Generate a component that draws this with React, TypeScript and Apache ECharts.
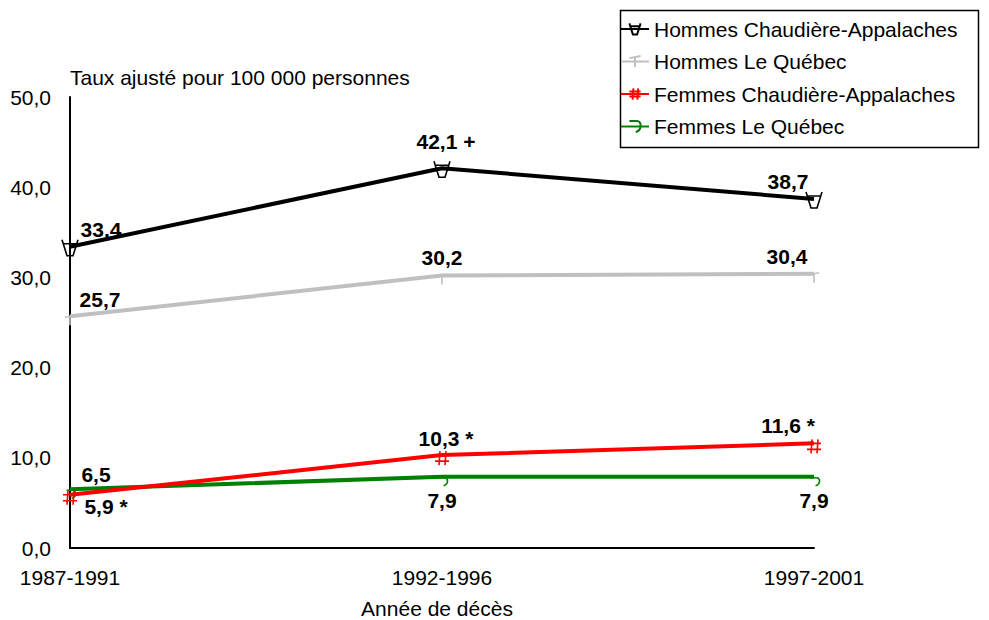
import React, { useEffect, useRef } from "react";
import * as echarts from "echarts";

const categories = ["1987-1991", "1992-1996", "1997-2001"];
const seriesNames = [
  "Hommes Chaudière-Appalaches",
  "Hommes Le Québec",
  "Femmes Chaudière-Appalaches",
  "Femmes Le Québec",
];
const hommesCA = [33.4, 42.1, 38.7];
const hommesQC = [25.7, 30.2, 30.4];
const femmesCA = [5.9, 10.3, 11.6];
const femmesQC = [6.5, 7.9, 7.9];
const hommesCALabels = ["33,4", "42,1 +", "38,7"];
const hommesQCLabels = ["25,7", "30,2", "30,4"];
const femmesCALabels = ["5,9 *", "10,3 *", "11,6 *"];
const femmesQCLabels = ["6,5", "7,9", "7,9"];
const yTicks = { min: 0, max: 50, interval: 10 };

const FONT = "'Liberation Sans', Arial, sans-serif";

export default function App() {
  const ref = useRef<HTMLDivElement>(null);
  useEffect(() => {
    const chart = echarts.init(ref.current!, null, { renderer: "svg" });
    const colors = ["#000000", "#c0c0c0", "#ff0000", "#008000"];
    const symbols = [
      "path://M0,0 L5,16 L11,16 L16,0 M1,4 L15,4",
      "path://M0,2 L10,0 M5,1 L5,10",
      "path://M5,0 L4,14 M11,0 L10,14 M0,4 L14,4 M0,10 L14,10",
      "path://M0,0 L6,0 C10,0 10,6 5,7",
    ];
    const symbolSizes: any[] = [[16, 16], [10, 10], [14, 14], [9, 8]];
    const symbolOffsets: any[] = [[0, 1], [0, 4], [0, 3], [1, 5]];
    const datas = [hommesCA, hommesQC, femmesCA, femmesQC];
    const labels = [hommesCALabels, hommesQCLabels, femmesCALabels, femmesQCLabels];
    const labelOffsets = [
      [[31, -17], [4, -27], [-26, -17]],
      [[30, -17], [0, -18], [-27, -17]],
      [[36, 12], [4, -17], [-26, -18]],
      [[26, -15], [0, 24], [0, 24]],
    ];
    const lineSeries = datas.map((d, i) => ({
      name: seriesNames[i],
      type: "line",
      data: d,
      symbol: symbols[i],
      symbolSize: symbolSizes[i],
      symbolOffset: symbolOffsets[i],
      showAllSymbol: true,
      lineStyle: { color: colors[i], width: 4 },
      itemStyle: { color: "transparent", borderColor: colors[i], borderWidth: 1.6 },
      z: 3 + (4 - i),
    }));
    const labelSeries = datas.map((d, i) => ({
      type: "scatter",
      silent: true,
      data: d.map((v, j) => ({
        value: [j, v],
        label: {
          show: true,
          position: ["50%", "50%"],
          align: "center",
          verticalAlign: "middle",
          offset: labelOffsets[i][j],
          formatter: labels[i][j],
          fontFamily: FONT,
          fontWeight: "bold",
          fontSize: 21,
          color: "#000000",
          textBorderWidth: 0,
          opacity: 1,
        },
      })),
      symbol: "circle",
      symbolSize: 1,
      itemStyle: { color: "rgba(0,0,0,0)" },
      z: 10,
    }));
    chart.setOption({
      animation: false,
      textStyle: { fontFamily: FONT },
      grid: { left: 70, right: 175, top: 97, bottom: 72 },
      legend: {
        orient: "vertical",
        left: 620,
        top: 18,
        padding: 0,
        itemWidth: 28,
        itemHeight: 14,
        itemGap: 10.5,
        data: seriesNames,
        textStyle: { fontSize: 21, color: "#000", fontFamily: FONT, lineHeight: 22 },
      },
      xAxis: {
        type: "category",
        data: categories,
        boundaryGap: false,
        axisLine: { lineStyle: { color: "#000", width: 2 } },
        axisTick: { show: false },
        axisLabel: { color: "#000", fontSize: 21, margin: 19, fontFamily: FONT },
      },
      yAxis: {
        type: "value",
        min: yTicks.min,
        max: yTicks.max,
        interval: yTicks.interval,
        splitLine: { show: false },
        axisLine: { show: true, lineStyle: { color: "#000", width: 2 } },
        axisTick: { show: false },
        axisLabel: {
          color: "#000",
          fontSize: 21,
          margin: 19,
          fontFamily: FONT,
          formatter: (v: number) => v.toFixed(1).replace(".", ","),
        },
      },
      graphic: [
        {
          type: "rect",
          left: 618,
          top: 8,
          shape: { width: 358, height: 137 },
          style: { fill: "none", stroke: "#000", lineWidth: 1.5 },
          z: -1,
        },
        {
          type: "text",
          x: 70,
          y: 77,
          style: {
            text: "Taux ajusté pour 100 000 personnes",
            fontSize: 21,
            fill: "#000",
            fontFamily: FONT,
            verticalAlign: "middle",
          },
        },
        {
          type: "text",
          x: 437,
          y: 608,
          style: {
            text: "Année de décès",
            fontSize: 21,
            fill: "#000",
            fontFamily: FONT,
            align: "center",
            verticalAlign: "middle",
          },
        },
      ],
      series: [...lineSeries, ...labelSeries],
    });
    return () => chart.dispose();
  }, []);
  return <div ref={ref} style={{ width: 989, height: 620, position: "absolute", left: 0, top: 0 }} />;
}
